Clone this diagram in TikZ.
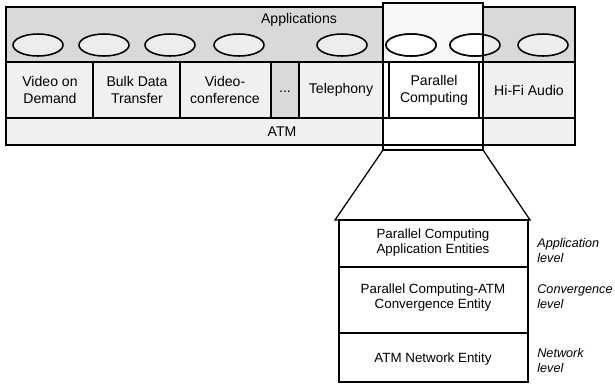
\documentclass[tikz,border=0pt]{standalone}
\usepackage{fontspec}
\setmainfont{Liberation Sans}
\begin{document}
\begin{tikzpicture}[x=0.025cm, y=-0.025cm, line width=0.9pt,
  cell/.style={align=center, font=\fontsize{10}{12}\selectfont},
  stacktext/.style={align=center, font=\fontsize{9.5}{10.7}\selectfont},
  level/.style={align=left, anchor=west, font=\fontsize{9}{10.7}\selectfont\itshape}]

\useasboundingbox (0,0) rectangle (615,384);

% rows
\draw[fill=gray!30] (6,7) rectangle (575,62);
\draw[fill=gray!12] (6,62) rectangle (575,118);
\draw[fill=gray!12] (6,118) rectangle (575,145);

% highlighted column
\fill[gray!6] (383,3) rectangle (483,62);
\fill[white] (383,62) rectangle (483,150);
\draw (383,62) -- (483,62);
\draw (383,118) -- (483,118);
\draw (383,145) -- (483,145);

\foreach \x in {93,180}
{
    \draw (\x,62) -- (\x,118);
}
\draw[fill=gray!30] (271,62) rectangle (299,118);
\draw[fill=white] (389,62) rectangle (479,118);

% ellipses
\foreach \x in {38,104,170,239,342,411,475,543}
{
    \draw[fill=gray!14, line width=1.1pt] (\x,45) ellipse (25 and 11);
}
\begin{scope}
\clip (383,3) rectangle (483,62);
\foreach \x in {411,475}
{
    \draw[fill=white, line width=1.1pt] (\x,45) ellipse (25 and 11);
}
\end{scope}

\draw (383,3) rectangle (483,150);
\coordinate (hlbl) at (383,150);
\coordinate (hlbr) at (483,150);

\draw (299,20) node[cell] (apps) {Applications};
\draw ( 50,90) node[cell] (vod) {Video on\\Demand};
\draw (137,90) node[cell] (bulk) {Bulk Data\\Transfer};
\draw (225,90) node[cell] (vconf) {Video-\\conference};
\draw (285,92) node[cell] (dots) {...};
\draw (341,90) node[cell] (tel) {Telephony};
\draw (434,90) node[cell] (pc) {Parallel\\Computing};
\draw (529,90) node[cell] (hifi) {Hi-Fi Audio};
\draw (282,132) node[cell] (atm) {ATM};

% stack
\coordinate (sttl) at (335,220);
\coordinate (sttr) at (530,220);
\draw (hlbl) -- (sttl) -- (sttr) -- (hlbr);
\draw (339,220) rectangle (528,382);
\draw (339,267) -- (528,267);
\draw (339,333) -- (528,333);

\draw (433,243) node[stacktext] (appent) {Parallel Computing\\Application Entities};
\draw (433,298) node[stacktext] (convent) {Parallel Computing-ATM\\Convergence Entity};
\draw (433,359) node[stacktext] (netent) {ATM Network Entity};

\draw (532,250) node[level] (applev) {Application\\level};
\draw (532,297) node[level] (convlev) {Convergence\\level};
\draw (532,360) node[level] (netlev) {Network\\level};

\end{tikzpicture}
\end{document}
